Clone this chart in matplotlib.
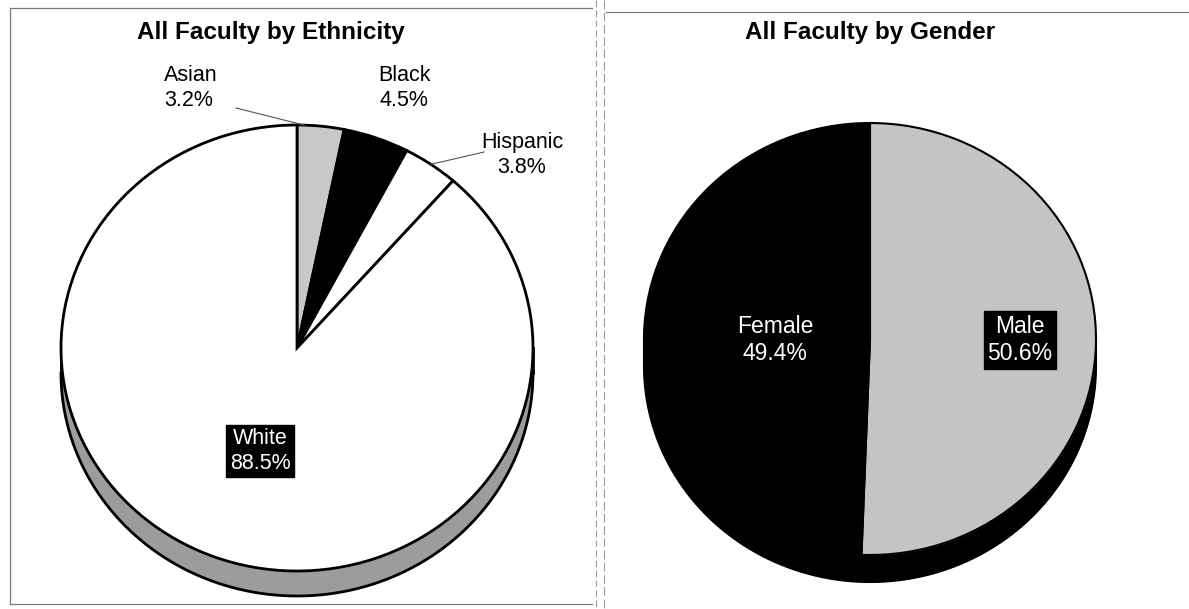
import numpy as np
import matplotlib
matplotlib.use("Agg")
import matplotlib.pyplot as plt

# ---------------- data ----------------
eth_labels = ["Asian", "Black", "Hispanic", "White"]
eth_values = [3.2, 4.5, 3.8, 88.5]
eth_colors = ["#c8c8c8", "#000000", "#ffffff", "#ffffff"]

gen_labels = ["Male", "Female"]
gen_values = [50.6, 49.4]
gen_colors = ["#c4c4c4", "#000000"]

titles = ["All Faculty by Ethnicity", "All Faculty by Gender"]

W, H = 1189, 609
plt.rcParams["font.family"] = ["Liberation Sans", "DejaVu Sans"]

fig = plt.figure(figsize=(W / 100, H / 100), dpi=100)
fig.patch.set_facecolor("white")


def pie3d(P, values, colors, side_color, lw):
    cx, cy, rx, ry, depth = P["cx"], P["cy"], P["rx"], P["ry"], P["depth"]
    d = depth / ry
    ax = fig.add_axes([(cx - rx - 4) / W, (H - (cy + ry + depth + 4)) / H,
                       (2 * rx + 8) / W, (2 * ry + depth + 8) / H])
    ax.axis("off")
    # side band (3-D depth)
    t = np.linspace(np.pi, 2 * np.pi, 300)
    x = np.cos(t)
    yt = np.sin(t)
    ax.fill_between(x, yt - d, yt, color=side_color, zorder=0, lw=0)
    ax.plot(x, yt - d, color="black", lw=lw, zorder=1)
    ax.plot([-1, -1], [0, -d], color="black", lw=lw, zorder=1)
    ax.plot([1, 1], [0, -d], color="black", lw=lw, zorder=1)
    wedges, _ = ax.pie(values, colors=colors, startangle=90, counterclock=False,
                       radius=1, wedgeprops=dict(edgecolor="black", linewidth=lw))
    for w in wedges:
        w.set_zorder(2)
    ax.set_aspect("auto")
    padx = 4 / rx
    pady = 4 / ry
    ax.set_xlim(-1 - padx, 1 + padx)
    ax.set_ylim(-1 - d - pady, 1 + pady)
    return ax


# left pie (ethnicity)
L = dict(cx=297, cy=348, rx=236, ry=223, depth=25)
pie3d(L, eth_values, eth_colors, "#9c9c9c", 2.0)

# right pie (gender)
R = dict(cx=870, cy=339, rx=226, ry=216, depth=27)
pie3d(R, gen_values, gen_colors, "#000000", 1.5)

# overlay axes in pixel coordinates for text, frames, leader lines
ov = fig.add_axes([0, 0, 1, 1], facecolor="none")
ov.set_xlim(0, W)
ov.set_ylim(H, 0)
ov.axis("off")

# panel frames (scanned, thin grey)
fr = dict(color="#7a7a7a", lw=0.9)
ov.plot([10, 592], [8, 8], **fr)
ov.plot([10, 10], [8, 604], **fr)
ov.plot([10, 592], [604, 604], **fr)
ov.plot([596, 596], [0, H], color="#9a9a9a", lw=0.8, ls=(0, (6, 3)))
ov.plot([604, 604], [0, H], color="#9a9a9a", lw=0.8, ls=(0, (8, 3)))
ov.plot([606, 1189], [12, 12], **fr)

# titles
ov.text(271, 32, titles[0], ha="center", va="center", fontsize=17.5, fontweight="bold")
ov.text(870, 32, titles[1], ha="center", va="center", fontsize=17.5, fontweight="bold")

fs = 15.5


def edge_pt(P, values, idx, pos=0.5):
    cum = np.cumsum([0] + list(values))
    frac = (cum[idx] + pos * values[idx]) / cum[-1]
    ang = np.pi / 2 - 2 * np.pi * frac
    return P["cx"] + P["rx"] * np.cos(ang), P["cy"] - P["ry"] * np.sin(ang)


lab = [f"{n}\n{v}%" for n, v in zip(eth_labels, eth_values)]
# Asian
ov.text(164, 88, lab[0], ha="left", va="center", fontsize=fs, linespacing=1.3)
ax_, ay_ = edge_pt(L, eth_values, 0, 0.15)
ov.plot([236, ax_], [108, ay_], color="#555555", lw=0.8)
# Black
ov.text(404, 88, lab[1], ha="center", va="center", fontsize=fs, linespacing=1.3)
# Hispanic
ov.text(522, 155, lab[2], ha="center", va="center", fontsize=fs, linespacing=1.3)
hx, hy = edge_pt(L, eth_values, 2)
ov.plot([hx, 484], [hy, 152], color="#555555", lw=0.8)
# White (boxed)
ov.text(260, 451, lab[3], ha="center", va="center", fontsize=fs, color="white",
        linespacing=1.25, bbox=dict(boxstyle="square,pad=0.15", fc="black", ec="black"))

# gender labels
gfs = 16.5
glab = [f"{n}\n{v}%" for n, v in zip(gen_labels, gen_values)]
ov.text(1020, 340, glab[0], ha="center", va="center", fontsize=gfs, color="white",
        linespacing=1.25, bbox=dict(boxstyle="square,pad=0.15", fc="black", ec="black"))
ov.text(775, 340, glab[1], ha="center", va="center", fontsize=gfs, color="white",
        linespacing=1.25)

fig.savefig("out.png", dpi=100, facecolor="white")
